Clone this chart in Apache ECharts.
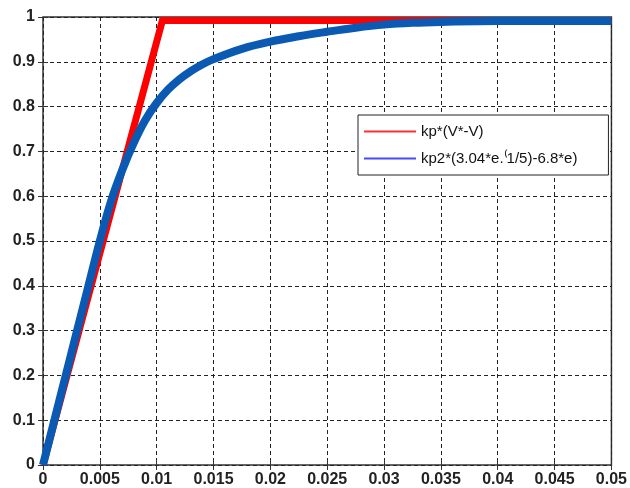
<!DOCTYPE html>
<html>
<head>
<meta charset="utf-8">
<script src="https://cdn.jsdelivr.net/npm/echarts@6/dist/echarts.min.js"></script>
<style>
    html, body { margin: 0; padding: 0; background: #fff; }
    #main { width: 630px; height: 488px; }
</style>
</head>
<body>
<div id="main"></div>
<script>
// tick labels / axis range
var xTicks = [0, 0.005, 0.01, 0.015, 0.02, 0.025, 0.03, 0.035, 0.04, 0.045, 0.05];
var yTicks = [0, 0.1, 0.2, 0.3, 0.4, 0.5, 0.6, 0.7, 0.8, 0.9, 1];

// series names
var redName = 'kp*(V*-V)';
var blueName = 'kp2*(3.04*e.\u207D1/5)-6.8*e)';

// kp*(V*-V): ramp then saturates (drawn just under the top border)
var redX = [0, 0.0105, 0.05];
var redY = [0, 0.992, 0.992];

// kp2*(...) curve
var blueX = [0, 0.001, 0.002, 0.003, 0.004, 0.005, 0.006, 0.007, 0.008, 0.009, 0.01,
    0.011, 0.012, 0.013, 0.014, 0.015, 0.0175, 0.02, 0.0225, 0.025, 0.0275, 0.03,
    0.0325, 0.035, 0.04, 0.045, 0.05];
var blueY = [0, 0.1, 0.2, 0.3, 0.4, 0.5, 0.59, 0.66, 0.72, 0.77, 0.808,
    0.838, 0.861, 0.879, 0.894, 0.906, 0.929, 0.945, 0.957, 0.967, 0.976, 0.983,
    0.987, 0.989, 0.991, 0.991, 0.991];

function pairs(xs, ys) {
    return xs.map(function (x, i) { return [x, ys[i]]; });
}

var chartDom = document.getElementById('main');
var myChart = echarts.init(chartDom, null, { renderer: 'canvas' });

var labelStyle = {
    color: '#222',
    fontFamily: 'Liberation Sans, Arial, sans-serif',
    fontSize: 16,
    fontWeight: 'bold'
};

var option = {
    backgroundColor: '#fff',
    animation: false,
    grid: {
        left: 43,
        right: 18,
        top: 17,
        bottom: 23,
        show: true,
        borderColor: '#333',
        borderWidth: 1.5,
        backgroundColor: '#fff'
    },
    legend: {
        orient: 'vertical',
        left: 358,
        top: 115,
        backgroundColor: '#fff',
        borderColor: '#222',
        borderWidth: 1,
        borderRadius: 0,
        padding: [9, 31, 9, 6],
        itemGap: 12,
        itemWidth: 52,
        itemHeight: 2,
        textStyle: {
            color: '#111',
            fontFamily: 'Liberation Sans, Arial, sans-serif',
            fontSize: 15
        },
        data: [
            { name: redName, icon: 'rect', itemStyle: { color: '#ff3030' } },
            { name: blueName, icon: 'rect', itemStyle: { color: '#4848ff' } }
        ]
    },
    xAxis: [
        {
            type: 'value',
            min: xTicks[0],
            max: xTicks[xTicks.length - 1],
            interval: 0.005,
            axisLine: { show: false },
            axisTick: { show: true, inside: true, length: 5, lineStyle: { color: '#333' } },
            axisLabel: Object.assign({ margin: 7, showMaxLabel: true, showMinLabel: true }, labelStyle),
            splitLine: { show: true, lineStyle: { color: '#222', type: [4, 3], width: 1 } }
        },
        {
            // top ticks only
            type: 'value',
            position: 'top',
            min: xTicks[0],
            max: xTicks[xTicks.length - 1],
            interval: 0.005,
            axisLine: { show: false },
            axisTick: { show: true, inside: true, length: 5, lineStyle: { color: '#333' } },
            axisLabel: { show: false },
            splitLine: { show: false }
        }
    ],
    yAxis: [
        {
            type: 'value',
            min: yTicks[0],
            max: yTicks[yTicks.length - 1],
            interval: 0.1,
            axisLine: { show: false },
            axisTick: { show: true, inside: true, length: 5, lineStyle: { color: '#333' } },
            axisLabel: Object.assign({ margin: 8 }, labelStyle),
            splitLine: { show: true, lineStyle: { color: '#222', type: [4, 3], width: 1 } }
        },
        {
            // right ticks only
            type: 'value',
            position: 'right',
            min: yTicks[0],
            max: yTicks[yTicks.length - 1],
            interval: 0.1,
            axisLine: { show: false },
            axisTick: { show: true, inside: true, length: 5, lineStyle: { color: '#333' } },
            axisLabel: { show: false },
            splitLine: { show: false }
        }
    ],
    series: [
        {
            name: redName,
            type: 'line',
            data: pairs(redX, redY),
            showSymbol: false,
            symbol: 'none',
            clip: true,
            lineStyle: { color: '#ff0000', width: 7, join: 'miter' },
            itemStyle: { color: '#ff0000' }
        },
        {
            name: blueName,
            type: 'line',
            data: pairs(blueX, blueY),
            showSymbol: false,
            symbol: 'none',
            smooth: 0.4,
            clip: true,
            lineStyle: { color: '#0a5ab4', width: 8 },
            itemStyle: { color: '#0a5ab4' }
        }
    ]
};

myChart.setOption(option);
</script>
</body>
</html>
